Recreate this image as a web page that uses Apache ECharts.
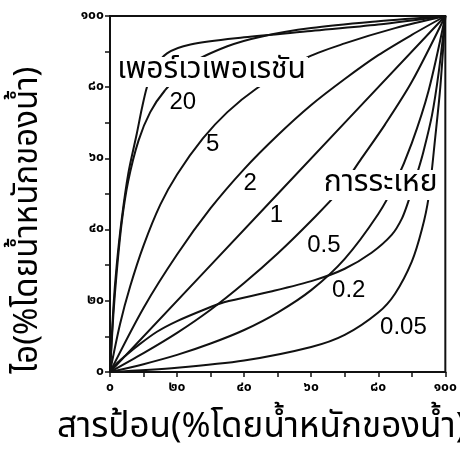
<!DOCTYPE html>
<html><head><meta charset="utf-8">
<script src="https://cdn.jsdelivr.net/npm/echarts/dist/echarts.min.js"></script>
<style>html,body{margin:0;padding:0;background:#fff}#c{width:460px;height:458px}</style>
</head><body><div id="c"></div>
<script>
// ---- data (x = feed %, y = vapour %) ----
const tickValues = [0, 20, 40, 60, 80, 100];
const tickLabels = ['๐','๒๐','๔๐','๖๐','๘๐','๑๐๐'];
const xAxisName = 'สารป้อน(%โดยน้ำหนักของน้ำ)';
const yAxisName = 'ไอ(%โดยน้ำหนักของน้ำ)';

const pervaporation = [[0,0],[1,18],[2,30],[3.5,43],[5.5,56],[8,67],[9.5,74],[11,80],[13,85],[17,89.5],[24,92],[40,94],[60,95.8],[80,97.6],[100,100]];
const alpha20 = [[0,0],[1,16],[2,28],[3.5,42],[5.4,53.5],[8.5,65],[12,73],[16.3,79],[24,86.5],[35,91.5],[45,94.2],[60,96.6],[80,98.5],[100,100]];
const alpha5 = [[0,0],[3,13.5],[6,24],[10,35.5],[15,47],[20,55.5],[27.7,65.6],[35,73],[43.5,79.5],[58,88],[70,92.3],[85,96.6],[100,100]];
const alpha2 = [[0,0],[10,18],[20,33],[30,46],[40,57],[50,66.5],[60,75],[70,82.3],[80,89],[90,94.7],[100,100]];
const alpha1 = [[0,0],[50,50],[100,100]];
const alpha05 = [[0,0],[10,5.3],[20,11],[30,17.5],[40,25],[50,33.3],[60,42.5],[68,50.5],[75,60],[82,69.5],[90,81.5],[100,100]];
const alpha02 = [[0,0],[10,2.2],[20,4.8],[30,8],[40,11.8],[50,16.7],[60,23],[70,31.8],[80,44.4],[85,53],[90,64.3],[95,79],[100,100]];
const alpha005 = [[0,0],[20,1.2],[40,3.2],[60,7],[70,10.4],[80,16.7],[85,22],[90,31],[93,40],[95,49],[97,66],[98.5,80],[100,100]];
const evaporation = [[0,0],[2,2.4],[4.4,4.4],[8,7.2],[14,11.3],[20,14.3],[28,17.5],[34,19.6],[48,22.6],[61,25.8],[70,29],[78,33.5],[84,38.5],[87,43],[89,48],[92,57],[93.5,62],[96,72],[98,84],[100,100]];

const curveTexts = ['เพอร์เวเพอเรชัน','20','5','2','1','การระเหย','0.5','0.2','0.05'];
const curveTextX = [30.3, 21.7, 30.6, 41.8, 49.6, 80.7, 63.8, 71.2, 87.5];
const curveTextY = [84.3, 75.8, 63.8, 53.1, 44.1, 52.5, 35.7, 22.8, 12.4];

// ---- chart ----
const INK = '#000';
const THAI = '"Noto Sans Thai","Noto Sans Thai Looped","Loma","Garuda","Noto Sans","DejaVu Sans",sans-serif';
const LATIN = '"Liberation Sans",Arial,sans-serif';
const toThai = v => { const i = tickValues.indexOf(v); return i < 0 ? '' : tickLabels[i]; };

function lineSeries(name, data) {
  return { name, type: 'line', data, showSymbol: false, smooth: 0.3,
    lineStyle: { color: '#111', width: 2 }, z: 2, silent: true };
}

const chart = echarts.init(document.getElementById('c'));
const axisCommon = {
  type: 'value', min: 0, max: 100, interval: 10,
  axisLine: { show: true, lineStyle: { color: '#111', width: 2 } },
  axisTick: { show: true, length: 5, lineStyle: { color: '#111', width: 1.5 } },
  splitLine: { show: false },
  axisLabel: { formatter: v => toThai(v), color: INK, fontSize: 14, fontWeight: 'bold', fontFamily: THAI }
};
chart.setOption({
  animation: false,
  backgroundColor: '#fff',
  grid: { left: 110, right: 13, top: 16, bottom: 86, show: true, borderColor: '#111', borderWidth: 2 },
  xAxis: Object.assign({}, axisCommon, { axisLabel: Object.assign({}, axisCommon.axisLabel, { margin: 9 }) }),
  yAxis: Object.assign({}, axisCommon, { axisLabel: Object.assign({}, axisCommon.axisLabel, { margin: 6 }) }),
  series: [
    lineSeries('เพอร์เวเพอเรชัน', pervaporation),
    lineSeries('20', alpha20),
    lineSeries('5', alpha5),
    lineSeries('2', alpha2),
    lineSeries('1', alpha1),
    lineSeries('0.5', alpha05),
    lineSeries('0.2', alpha02),
    lineSeries('0.05', alpha005),
    lineSeries('การระเหย', evaporation)
  ]
});

// curve annotations placed through the chart's own coordinate system
const annotations = curveTexts.map((t, i) => {
  const p = chart.convertToPixel({ gridIndex: 0 }, [curveTextX[i], curveTextY[i]]);
  const thai = /[\u0E00-\u0E7F]/.test(t);
  return {
    type: 'text', x: p[0], y: p[1], z: 10, silent: true,
    style: Object.assign({ text: t, fill: INK, textAlign: 'center', textVerticalAlign: 'middle' },
      thai ? { fontSize: 30, fontFamily: THAI, backgroundColor: '#fff', padding: [0, 2] }
           : { fontSize: 24, fontFamily: LATIN })
  };
});

chart.setOption({
  graphic: annotations.concat([
    { type: 'text', left: 57, top: 412, silent: true,
      style: { text: xAxisName, fontSize: 35, fontFamily: THAI, fill: INK } },
    { type: 'text', x: 30, y: 220, rotation: Math.PI / 2, silent: true,
      style: { text: yAxisName, fontSize: 33, fontFamily: THAI, fill: INK, textAlign: 'center', textVerticalAlign: 'middle' } }
  ])
});
</script></body></html>
